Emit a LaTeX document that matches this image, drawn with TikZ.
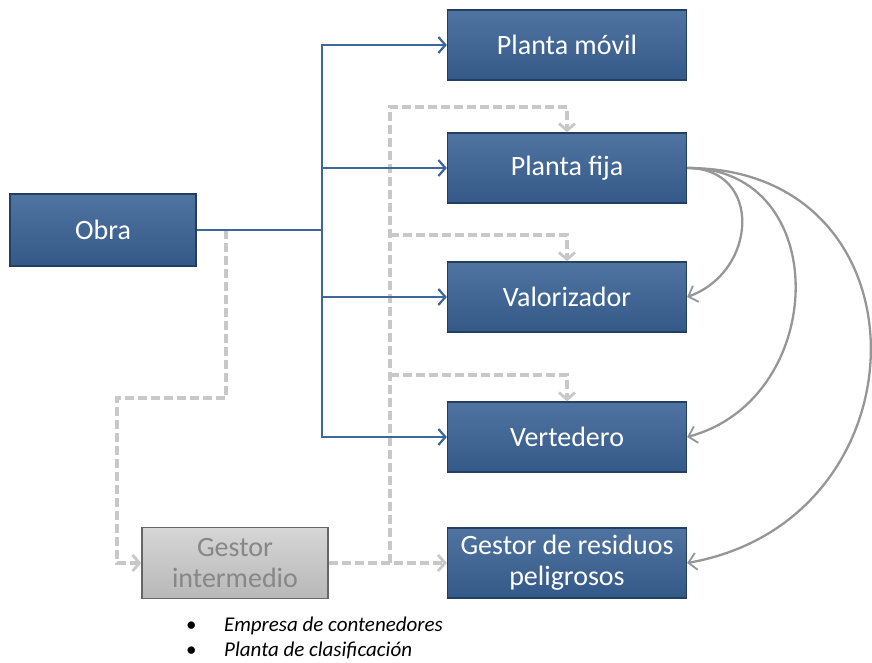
\documentclass[tikz,border=0pt]{standalone}
\usepackage{fontspec}
\setmainfont{Carlito}
\usetikzlibrary{arrows.meta,positioning,calc}
\definecolor{boxblue}{RGB}{56,97,148}
\definecolor{boxedge}{RGB}{36,62,95}
\definecolor{flowblue}{RGB}{62,102,152}
\definecolor{dashgray}{RGB}{200,200,200}
\definecolor{curvegray}{RGB}{150,150,150}
\definecolor{midgray}{RGB}{200,200,200}
\definecolor{midtext}{RGB}{135,135,135}

\begin{document}
\begin{tikzpicture}[x=1pt, y=-1pt,
  box/.style={draw=boxedge, line width=1.3pt, top color=boxblue!88!white, bottom color=boxblue!92!black,
    text=white, minimum width=239pt, minimum height=70pt, inner sep=1pt,
    font=\fontsize{28}{31}\selectfont, align=center},
  graybox/.style={box, draw=gray!80!black, top color=midgray!75!white, bottom color=midgray!92!black, text=midtext},
  flow/.style={draw=flowblue, line width=2.7pt, -{Straight Barb[length=7pt,width=16pt,line width=2.2pt]}},
  trunkline/.style={draw=flowblue, line width=2.7pt},
  dashflow/.style={draw=dashgray, line width=3.5pt, dash pattern=on 9pt off 4pt},
  dasharrow/.style={dashflow, -{Straight Barb[length=7pt,width=16pt,line width=2.8pt]}},
  back/.style={draw=curvegray, line width=2.3pt, -{Straight Barb[length=8pt,width=17pt,line width=1.8pt]}},
  note/.style={font=\fontsize{21}{25}\selectfont, align=left, inner sep=0pt}]
  \useasboundingbox (0,0) rectangle (872,663);

  % boxes
  \node[box, minimum width=186pt, minimum height=72pt] (obra) at (103,230) {Obra};
  \node[box] (movil) at (567,45) {Planta móvil};
  \node[box] (fija) at (567,168) {Planta fija};
  \node[box] (valor) at (567,297) {Valorizador};
  \node[box] (verted) at (567,437) {Vertedero};
  \node[box] (peligro) at (567,563) {Gestor de residuos\\peligrosos};
  \node[graybox, minimum width=186pt, minimum height=71pt] (inter) at (235,563) {Gestor\\intermedio};

  % gray dashed route through the intermediate manager
  \coordinate (split) at (226,230);
  \coordinate (drop) at (117,398);
  \coordinate (hub) at (390,563);
  \coordinate (top) at (390,107);
  \draw[dasharrow] (split) |- (drop) |- (inter.west);
  \draw[dasharrow] (inter.east) -- (peligro.west);
  \draw[dasharrow] (hub) -- (top) -| (fija.north);
  \draw[dasharrow] (390,235) -| (valor.north);
  \draw[dasharrow] (390,375) -| (verted.north);

  % blue routes from the site
  \coordinate (trunk) at (322,230);
  \draw[trunkline] (obra.east) -- (trunk);
  \draw[flow] (trunk) |- (movil.west);
  \draw[flow] (trunk) |- (fija.west);
  \draw[flow] (trunk) |- (valor.west);
  \draw[flow] (trunk) |- (verted.west);

  % returns from the fixed plant
  \draw[back] (fija.east) to[out=0, in=20, looseness=1.5] (valor.east);
  \draw[back] (fija.east) to[out=0, in=15, looseness=1.4] (verted.east);
  \draw[back] (fija.east) to[out=0, in=10, looseness=1.6] (peligro.east);

  % list under the intermediate manager
  \node[note, anchor=base west] (types) at (186,656)
    {\makebox[38pt][l]{\textbullet}\textit{Empresa de contenedores}\\
     \makebox[38pt][l]{\textbullet}\textit{Planta de clasificación}};
\end{tikzpicture}
\end{document}
